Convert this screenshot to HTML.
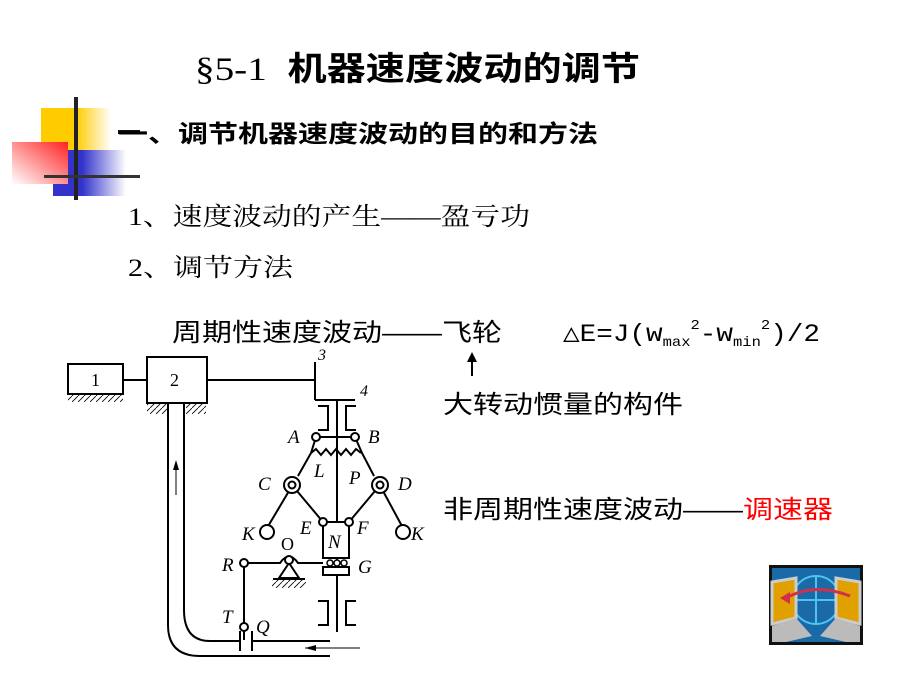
<!DOCTYPE html>
<html><head><meta charset="utf-8"><style>
html,body{margin:0;padding:0;background:#fff;}
svg{display:block;}
text{font-family:"Liberation Serif","Noto Serif CJK SC","Noto Sans CJK SC",serif;}
.s{font-family:"Liberation Sans","Noto Sans CJK SC",sans-serif;}
.i{font-style:italic;font-size:19px;font-family:"Liberation Serif",serif;}
</style></head><body>
<svg width="900" height="675" viewBox="0 0 900 675" xmlns="http://www.w3.org/2000/svg">
<defs>
<linearGradient id="gy" x1="0" x2="1"><stop offset="0.5" stop-color="#ffcc00"/><stop offset="1" stop-color="#fff"/></linearGradient>
<linearGradient id="gb" x1="0" x2="1"><stop offset="0.4" stop-color="#3333cc"/><stop offset="1" stop-color="#fff"/></linearGradient>
<linearGradient id="gr" x1="1" y1="0" x2="0" y2="1"><stop offset="0" stop-color="#ff2222"/><stop offset="1" stop-color="#fff"/></linearGradient>
<pattern id="h" width="6" height="6" patternUnits="userSpaceOnUse"><path d="M0 6 L6 0" stroke="#000" stroke-width="0.8"/></pattern>
</defs>
<rect x="41" y="108" width="70" height="42" fill="url(#gy)"/>
<rect x="53" y="150" width="73" height="46" fill="url(#gb)"/>
<rect x="12" y="142" width="56" height="42" fill="url(#gr)"/>
<rect x="74" y="97" width="4" height="103" fill="#222"/>
<rect x="44" y="175" width="96" height="3" fill="#333"/>
<rect x="118" y="130" width="22" height="4" fill="#111"/>
<text x="195" y="80" font-size="33" textLength="445" lengthAdjust="spacingAndGlyphs"><tspan>§5-1 </tspan><tspan class="s" font-weight="bold">&#160;机器速度波动的调节</tspan></text>
<text class="s" x="118" y="142" font-size="24" font-weight="bold" textLength="480" lengthAdjust="spacingAndGlyphs">一、调节机器速度波动的目的和方法</text>
<text x="128" y="225" font-size="25" textLength="402" lengthAdjust="spacingAndGlyphs">1、速度波动的产生——盈亏功</text>
<text x="128" y="276" font-size="25" textLength="165" lengthAdjust="spacingAndGlyphs">2、调节方法</text>
<text class="s" x="172" y="341" font-size="25" textLength="330" lengthAdjust="spacingAndGlyphs">周期性速度波动——飞轮</text>
<text x="563" y="341" font-size="25" textLength="257" lengthAdjust="spacingAndGlyphs" style="font-family:'Liberation Mono',monospace">△E=J(w<tspan font-size="14" dy="5">max</tspan><tspan font-size="14" dy="-17">2</tspan><tspan dy="12">-w</tspan><tspan font-size="14" dy="5">min</tspan><tspan font-size="14" dy="-17">2</tspan><tspan dy="12">)/2</tspan></text>
<line x1="472" y1="376" x2="472" y2="358" stroke="#000" stroke-width="2"/>
<path d="M467 362 L472 352 L477 362 Z" fill="#000"/>
<text class="s" x="443" y="413" font-size="25" textLength="240" lengthAdjust="spacingAndGlyphs">大转动惯量的构件</text>
<text class="s" x="443" y="518" font-size="25" textLength="300" lengthAdjust="spacingAndGlyphs">非周期性速度波动——</text>
<text class="s" x="743" y="518" font-size="25" fill="#ff0000" textLength="90" lengthAdjust="spacingAndGlyphs">调速器</text>
<g stroke="#000" stroke-width="2" fill="none">
<rect x="68" y="364" width="55" height="30" fill="#fff"/>
<rect x="147" y="357" width="60" height="46" fill="#fff"/>
<line x1="123" y1="380" x2="147" y2="380"/>
<line x1="207" y1="380" x2="315" y2="380"/>
<line x1="315" y1="362" x2="315" y2="400"/>
<line x1="315" y1="400" x2="355" y2="400"/>
<line x1="337" y1="400" x2="337" y2="632"/>
<path d="M168 403 V625 Q168 656 200 656 H330"/>
<path d="M184 403 V610 Q184 641 210 641 H240"/>
<line x1="252" y1="641" x2="330" y2="641"/>
<line x1="240" y1="631" x2="240" y2="651"/>
<line x1="252" y1="631" x2="252" y2="651"/>
<path d="M318 406 H328 V430 H318 M356 406 H346 V430 H356"/>
<path d="M318 601 H328 V625 H318 M356 601 H346 V625 H356"/>
<line x1="316" y1="437" x2="355" y2="437"/>
<path d="M311 453 l5 -4 5 6 5 -6 5 6 5 -6 5 6 5 -6 5 6 5 -6 5 4"/>
<path d="M316 437 L311 453 L298 476"/><path d="M355 437 L362 453 L374 476"/>
<line x1="289" y1="491" x2="267" y2="528"/><line x1="383" y1="491" x2="403" y2="528"/>
<line x1="292" y1="485" x2="323" y2="522"/><line x1="380" y1="485" x2="349" y2="522"/>
<rect x="323" y="522" width="26" height="36" fill="#fff"/>
<rect x="323" y="567" width="26" height="8" fill="#fff"/>
<path d="M244 563 H280 Q289 550 298 563 H323"/>
<line x1="244" y1="563" x2="244" y2="640"/>
<path d="M289 563 L279 578 H299 Z"/>
<line x1="273" y1="579" x2="305" y2="579"/>
<line x1="360" y1="648" x2="305" y2="648" stroke-width="1"/>
<line x1="176" y1="495" x2="176" y2="462" stroke-width="1"/>
</g>
<g fill="#fff" stroke="#000" stroke-width="1.5"><circle cx="330" cy="563" r="3"/><circle cx="337" cy="563" r="3"/><circle cx="344" cy="563" r="3"/></g>
<path d="M173 470 L176 460 L179 470 Z"/><path d="M305 648 L316 645 L316 651 Z"/>
<rect x="68" y="395" width="55" height="7" fill="url(#h)"/>
<rect x="147" y="404" width="20" height="10" fill="url(#h)"/><rect x="186" y="404" width="20" height="10" fill="url(#h)"/>
<rect x="272" y="580" width="34" height="8" fill="url(#h)"/>
<g fill="#fff" stroke="#000" stroke-width="2">
<circle cx="316" cy="437" r="4"/><circle cx="355" cy="437" r="4"/>
<circle cx="292" cy="485" r="8"/><circle cx="380" cy="485" r="8"/>
<circle cx="292" cy="485" r="3.5"/><circle cx="380" cy="485" r="3.5"/>
<circle cx="323" cy="522" r="4"/><circle cx="349" cy="522" r="4"/>
<circle cx="267" cy="532" r="7"/><circle cx="403" cy="532" r="7"/>
<circle cx="289" cy="560" r="4"/><circle cx="244" cy="563" r="4"/><circle cx="244" cy="627" r="4"/>
</g>
<g class="i">
<text x="318" y="360" font-size="16">3</text><text x="360" y="396" font-size="16">4</text>
<text x="288" y="443">A</text><text x="368" y="443">B</text><text x="258" y="490">C</text><text x="398" y="490">D</text>
<text x="314" y="477">L</text><text x="349" y="484">P</text><text x="300" y="534">E</text><text x="357" y="534">F</text>
<text x="242" y="540">K</text><text x="411" y="540">K</text><text x="328" y="548">N</text>
<text x="222" y="571">R</text><text x="358" y="573">G</text><text x="222" y="623">T</text><text x="256" y="633">Q</text>
</g>
<text x="281" y="550" font-size="18">O</text>
<text x="91" y="386" font-size="18">1</text><text x="170" y="386" font-size="18">2</text>
<rect x="769" y="565" width="94" height="80" fill="#111"/>
<rect x="772" y="568" width="88" height="74" fill="#1a6aa8"/>
<circle cx="816" cy="600" r="24" fill="none" stroke="#4fc3f0" stroke-width="2"/>
<line x1="816" y1="576" x2="816" y2="624" stroke="#4fc3f0" stroke-width="2"/>
<line x1="792" y1="600" x2="840" y2="600" stroke="#4fc3f0" stroke-width="2"/>
<path d="M772 582 L796 578 L796 618 L772 624 Z" fill="#e0a000" stroke="#ccc" stroke-width="3"/>
<path d="M860 582 L836 578 L836 618 L860 624 Z" fill="#e0a000" stroke="#ccc" stroke-width="3"/>
<path d="M772 626 L796 618 L812 636 L786 642 L772 642 Z" fill="#bbb"/><path d="M860 626 L836 618 L820 636 L846 642 L860 642 Z" fill="#bbb"/>
<path d="M850 596 Q815 582 786 598" stroke="#d0304a" stroke-width="3" fill="none"/>
<path d="M780 598 L790 592 L790 604 Z" fill="#d0304a"/>
</svg>
</body></html>
